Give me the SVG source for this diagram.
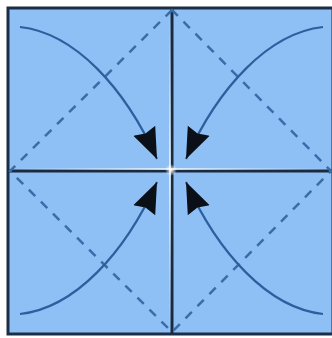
<svg xmlns="http://www.w3.org/2000/svg" width="332" height="338" viewBox="0 0 332 338">
  <style>
    .sheet { fill: #8EC0F6; stroke: #1C2E45; stroke-width: 3; }
    .crease { stroke: #1B2A3C; stroke-width: 3; fill: none; }
    .glow { stroke-width: 1.5; fill: none; }
    .valley { stroke: #3A6DA6; stroke-width: 2.5; stroke-dasharray: 9 8; fill: none; }
    .arrow { stroke: #2C5F9C; stroke-width: 2.2; fill: none; marker-end: url(#head); }
  </style>
  <defs>
    <marker id="head" markerUnits="userSpaceOnUse" markerWidth="34" markerHeight="28" refX="31" refY="13" orient="auto">
      <path d="M0,1 L31,13 L0,25 L3,13 Z" fill="#0A0F18"/>
    </marker>
    <linearGradient id="gh" x1="8" y1="0" x2="332" y2="0" gradientUnits="userSpaceOnUse">
      <stop offset="0" stop-color="#FFFFFF" stop-opacity="0"/>
      <stop offset="0.5" stop-color="#FFFFFF" stop-opacity="0.95"/>
      <stop offset="1" stop-color="#FFFFFF" stop-opacity="0"/>
    </linearGradient>
    <linearGradient id="gv" x1="0" y1="8" x2="0" y2="334" gradientUnits="userSpaceOnUse">
      <stop offset="0" stop-color="#FFFFFF" stop-opacity="0"/>
      <stop offset="0.5" stop-color="#FFFFFF" stop-opacity="0.95"/>
      <stop offset="1" stop-color="#FFFFFF" stop-opacity="0"/>
    </linearGradient>
    <radialGradient id="spark" cx="0.5" cy="0.5" r="0.5">
      <stop offset="0" stop-color="#FFFFFF" stop-opacity="1"/>
      <stop offset="1" stop-color="#FFFFFF" stop-opacity="0"/>
    </radialGradient>
  </defs>
  <rect width="332" height="338" fill="#FFFFFF"/>
  <g id="sheet">
    <rect class="sheet" x="8" y="8" width="325" height="326"/>
  </g>
  <g id="creases">
    <line class="crease" x1="8" y1="171" x2="333" y2="171"/>
    <line class="crease" x1="172" y1="8" x2="172" y2="334"/>
    <line class="glow" stroke="url(#gh)" x1="8" y1="169" x2="333" y2="169"/>
    <line class="glow" stroke="url(#gv)" x1="170" y1="8" x2="170" y2="334"/>
    <circle cx="171" cy="170" r="6" fill="url(#spark)"/>
  </g>
  <g id="valley-folds">
    <path class="valley" d="M172,10 L10,171 L172,332 L331,171 Z"/>
  </g>
  <g id="connectors">
    <path class="arrow" d="M20,27 C75,33 125,88 157,159"/>
    <path class="arrow" d="M323,27 C268,33 218,88 186,159"/>
    <path class="arrow" d="M20,314 C75,308 125,253 157,182"/>
    <path class="arrow" d="M323,314 C268,308 218,253 186,182"/>
  </g>
</svg>
